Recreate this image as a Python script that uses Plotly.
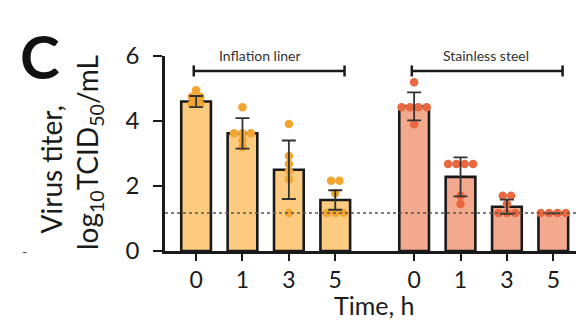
import numpy as np
import plotly.graph_objects as go

# ---- data ----
time_labels = ["0", "1", "3", "5"]
liner_pos = [0, 1, 2, 3]
steel_pos = [4.7, 5.7, 6.7, 7.7]

liner_mean = [4.6, 3.62, 2.5, 1.57]
liner_sd = [0.17, 0.47, 0.9, 0.3]
steel_mean = [4.45, 2.28, 1.36, 1.16]
steel_sd = [0.43, 0.6, 0.22, 0.0]

liner_points = [
    [4.95, 4.75, 4.75, 4.6, 4.52, 4.52],
    [4.42, 3.62, 3.62, 3.62, 3.4, 3.2],
    [3.91, 2.92, 2.68, 2.46, 2.21, 1.17],
    [2.16, 2.16, 1.78, 1.17, 1.17, 1.17],
]
steel_points = [
    [5.19, 4.42, 4.42, 4.42, 4.42, 3.9],
    [2.68, 2.68, 2.68, 2.68, 1.7, 1.45],
    [1.7, 1.7, 1.45, 1.17, 1.17, 1.17],
    [1.17, 1.17, 1.17, 1.17],
]
lod = 1.17

liner_fill = "#FDCB80"
liner_dot = "#F2A530"
steel_fill = "#F3A98E"
steel_dot = "#E8693F"

FONT = "Lato"


def swarm(center, values, step=0.18):
    xs, ys = [], []
    groups = {}
    for v in values:
        groups.setdefault(round(v, 2), 0)
        groups[round(v, 2)] += 1
    for v, n in groups.items():
        for i in range(n):
            xs.append(center + (i - (n - 1) / 2) * step)
            ys.append(v)
    return xs, ys


fig = go.Figure()

for pos, mean, sd, fill, dot, pts in [
    (liner_pos, liner_mean, liner_sd, liner_fill, liner_dot, liner_points),
    (steel_pos, steel_mean, steel_sd, steel_fill, steel_dot, steel_points),
]:
    fig.add_trace(go.Bar(
        x=pos, y=mean, width=0.64,
        marker=dict(color=fill, line=dict(color="#1a1a1a", width=2.6)),
        showlegend=False,
    ))
    xs, ys = [], []
    for c, p in zip(pos, pts):
        a, b = swarm(c, p)
        xs += a
        ys += b
    fig.add_trace(go.Scatter(
        x=xs, y=ys, mode="markers",
        marker=dict(color=dot, size=8.5, line=dict(width=0)),
        showlegend=False, cliponaxis=False,
    ))
    fig.add_trace(go.Scatter(
        x=pos, y=mean, mode="markers",
        marker=dict(size=1, color="rgba(0,0,0,0)"),
        error_y=dict(type="data", array=sd, visible=True,
                     color="#333333", thickness=1.8, width=7),
        showlegend=False,
    ))

# limit of detection
fig.add_shape(type="line", xref="paper", x0=0, x1=1, y0=lod, y1=lod,
              line=dict(color="#555555", width=1.5, dash="dot"))

# brackets
for start, end in [(liner_pos[0], liner_pos[-1]), (steel_pos[0], steel_pos[-1])]:
    xa, xb = start - 0.05, end + 0.2
    yb = 5.54
    fig.add_shape(type="line", x0=xa, x1=xb, y0=yb, y1=yb,
                  line=dict(color="#1a1a1a", width=2.5))
    for xe in (xa, xb):
        fig.add_shape(type="line", x0=xe, x1=xe, y0=yb - 0.17, y1=yb + 0.17,
                      line=dict(color="#1a1a1a", width=2.5))

fig.add_annotation(x=1.38, xref="x", yref="paper", y=1.005, text="Inflation liner",
                   showarrow=False, yanchor="middle",
                   font=dict(family=FONT, size=14, color="#333333"))
fig.add_annotation(x=6.24, xref="x", yref="paper", y=1.005, text="Stainless steel",
                   showarrow=False, yanchor="middle",
                   font=dict(family=FONT, size=14, color="#333333"))

# x title
fig.add_annotation(xref="paper", yref="paper", x=0.5, y=-0.275,
                   xanchor="center", yanchor="middle",
                   text="Time, h", showarrow=False,
                   font=dict(family=FONT, size=25, color="#1a1a1a"))

# y title (two lines)
fig.add_annotation(xref="paper", yref="paper", x=-0.272, y=0.42,
                   xanchor="center", yanchor="middle",
                   text="Virus titer,", textangle=-90, showarrow=False,
                   font=dict(family=FONT, size=28, color="#1a1a1a"))
fig.add_annotation(xref="paper", yref="paper", x=-0.183, y=0.505,
                   xanchor="center", yanchor="middle",
                   text="log<sub>10</sub>TCID<sub>50</sub>/mL", textangle=-90,
                   showarrow=False,
                   font=dict(family=FONT, size=28, color="#1a1a1a"))

# panel letter
fig.add_annotation(xref="paper", yref="paper", x=-0.3, y=1.0,
                   xanchor="center", yanchor="middle",
                   text="<b>C</b>", showarrow=False,
                   font=dict(family=FONT, size=60, color="#111111"))
fig.add_annotation(xref="paper", yref="paper", x=-0.335, y=0.0,
                   xanchor="center", yanchor="middle",
                   text="-", showarrow=False,
                   font=dict(family=FONT, size=14, color="#444444"))

fig.update_layout(
    width=584, height=322,
    margin=dict(l=157, r=9, t=48, b=79),
    plot_bgcolor="white", paper_bgcolor="white",
    barmode="overlay",
    font=dict(family=FONT, color="#1a1a1a"),
    xaxis=dict(
        range=[-0.67, 8.34],
        tickvals=liner_pos + steel_pos,
        ticktext=time_labels + time_labels,
        showline=True, linecolor="#1a1a1a", linewidth=2.6,
        ticks="outside", ticklen=7, tickwidth=2, tickcolor="#1a1a1a",
        tickfont=dict(family=FONT, size=23, color="#1a1a1a"),
        showgrid=False, zeroline=False,
    ),
    yaxis=dict(
        range=[0, 6],
        tickvals=[0, 2, 4, 6],
        showline=True, linecolor="#1a1a1a", linewidth=2.6,
        ticks="outside", ticklen=9, tickwidth=2, tickcolor="#1a1a1a",
        ticklabelstandoff=9,
        tickfont=dict(family=FONT, size=24, color="#1a1a1a"),
        showgrid=False, zeroline=False,
    ),
)

fig.write_html("out.html")
